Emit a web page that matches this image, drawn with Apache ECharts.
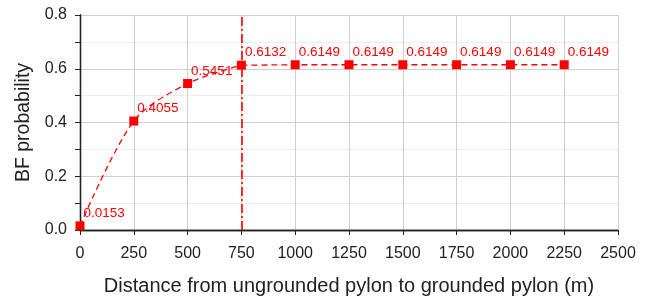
<!DOCTYPE html>
<html>
<head>
<meta charset="utf-8">
<script src="https://cdn.jsdelivr.net/npm/echarts@6/dist/echarts.min.js"></script>
<style>
  html, body { margin: 0; padding: 0; background: #fff; }
  #chart { width: 652px; height: 297px; }
</style>
</head>
<body>
<div id="chart"></div>
<script>
// distance (m) and BF probability
var distances = [0, 250, 500, 750, 1000, 1250, 1500, 1750, 2000, 2250];
var bfProb = [0.0153, 0.4055, 0.5451, 0.6132, 0.6149, 0.6149, 0.6149, 0.6149, 0.6149, 0.6149];
var cutoff = 750;

var red = '#ff0000';
var font = 'Liberation Sans, Arial, sans-serif';

var pts = distances.map(function(d, i) { return [d, bfProb[i]]; });
var risePts = pts.filter(function(p) { return p[0] <= cutoff; });
var flatPts = pts.filter(function(p) { return p[0] >= cutoff; });

var myChart = echarts.init(document.getElementById('chart'));

var option = {
    animation: false,
    grid: { left: 80, right: 34, top: 15, bottom: 67, containLabel: false, outerBoundsMode: 'none' },
    xAxis: [
        {
            type: 'value',
            min: 0, max: 2500, interval: 250,
            name: 'Distance from ungrounded pylon to grounded pylon (m)',
            nameLocation: 'middle',
            nameGap: 46,
            nameTextStyle: { color: '#222', fontSize: 20, fontFamily: font },
            axisLine: { show: true, lineStyle: { color: '#222', width: 1.3 } },
            axisTick: { show: true, inside: false, length: 5, lineStyle: { color: '#222' } },
            splitLine: { show: true, lineStyle: { color: '#cfcfcf', width: 1 } },
            axisLabel: {
                color: '#222', fontSize: 16, fontFamily: font, margin: 16,
                formatter: function(v) { return String(v); }
            }
        },
        {
            type: 'value', position: 'top',
            min: 0, max: 2500, interval: 250,
            axisLine: { show: true, lineStyle: { color: '#222', width: 1.3 } },
            axisTick: { show: true, inside: true, length: 5, lineStyle: { color: '#222' } },
            axisLabel: { show: false },
            splitLine: { show: false }
        }
    ],
    yAxis: [
        {
            type: 'value',
            min: 0, max: 0.8, interval: 0.2,
            name: 'BF probability',
            nameLocation: 'middle',
            nameGap: 43,
            nameTextStyle: { color: '#222', fontSize: 19.5, fontFamily: font },
            axisLine: { show: true, lineStyle: { color: '#222', width: 1.3 } },
            axisTick: { show: true, inside: false, length: 5, lineStyle: { color: '#222' } },
            minorTick: { show: true, splitNumber: 2, length: 3, lineStyle: { color: '#222' } },
            splitLine: { show: true, lineStyle: { color: '#cfcfcf', width: 1 } },
            minorSplitLine: { show: true, lineStyle: { color: '#ececec', width: 1 } },
            axisLabel: {
                color: '#222', fontSize: 16, fontFamily: font, margin: 13,
                formatter: function(v) { return v.toFixed(1); }
            }
        },
        {
            type: 'value', position: 'right',
            min: 0, max: 0.8, interval: 0.2,
            axisLine: { show: true, lineStyle: { color: '#222', width: 1.3 } },
            axisTick: { show: true, inside: true, length: 5, lineStyle: { color: '#222' } },
            minorTick: { show: true, splitNumber: 2, length: 5, lineStyle: { color: '#222' } },
            axisLabel: { show: false },
            splitLine: { show: false }
        }
    ],
    series: [
        {
            // smooth rise up to 750 m
            type: 'line',
            data: risePts,
            smooth: 0.3,
            showSymbol: false,
            lineStyle: { color: red, width: 1.3, type: [6, 4] },
            silent: true
        },
        {
            type: 'line',
            data: flatPts,
            showSymbol: false,
            lineStyle: { color: red, width: 1.3, type: [6, 4] },
            silent: true
        },
        {
            type: 'line',
            data: pts,
            lineStyle: { opacity: 0 },
            symbol: 'rect',
            symbolSize: 9,
            itemStyle: { color: red },
            label: {
                show: true,
                position: [8, -15],
                color: red,
                fontSize: 13.5,
                fontFamily: font,
                formatter: function(p) { return p.value[1].toFixed(4); }
            },
            markLine: {
                silent: true,
                symbol: 'none',
                label: { show: false },
                lineStyle: { color: red, width: 1.6, type: [9, 3, 2, 3] },
                data: [{ xAxis: cutoff }]
            },
            z: 5
        }
    ]
};

myChart.setOption(option);
</script>
</body>
</html>
